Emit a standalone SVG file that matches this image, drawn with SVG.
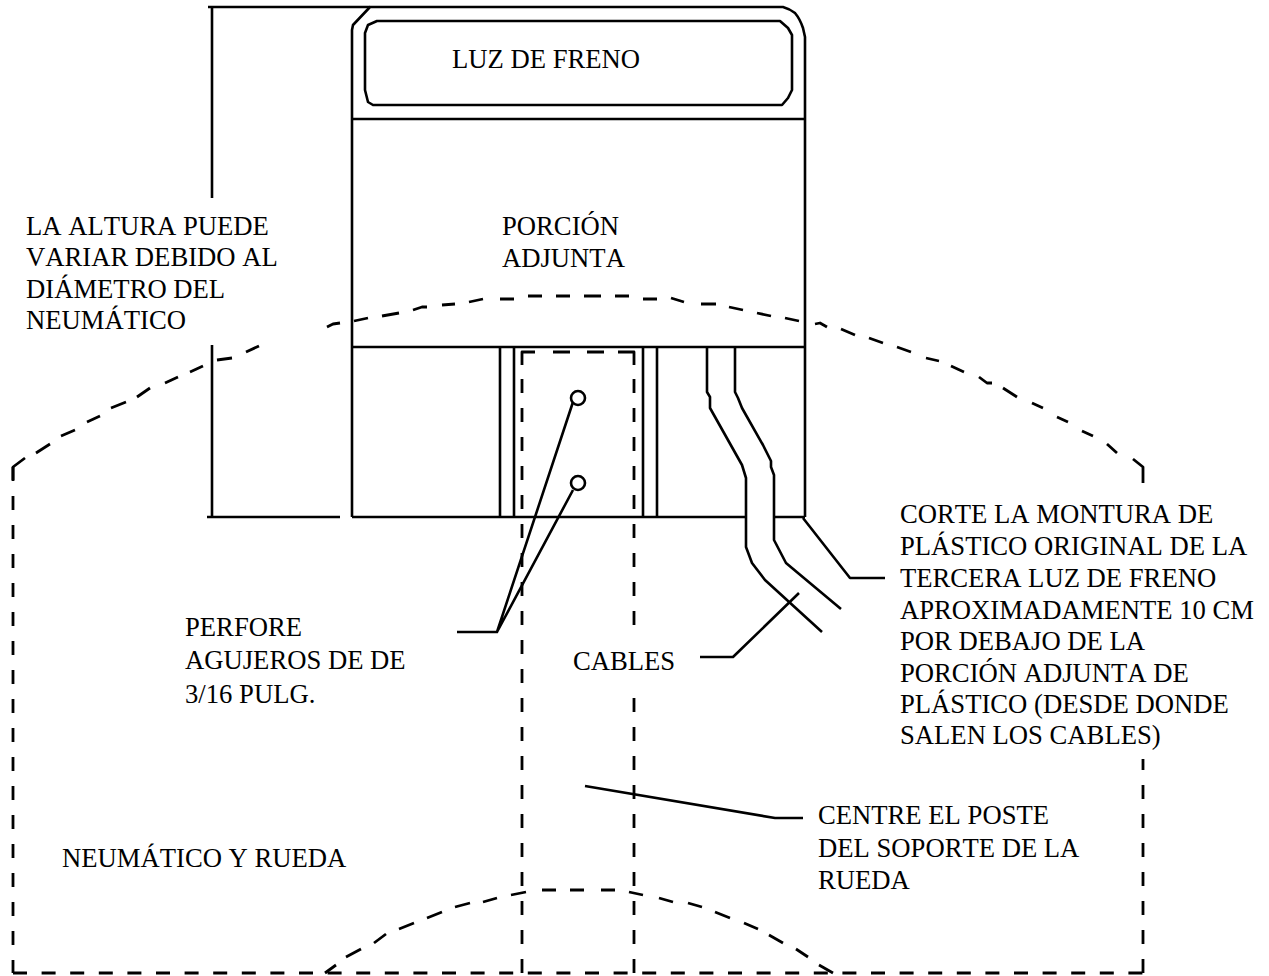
<svg xmlns="http://www.w3.org/2000/svg" width="1269" height="976" viewBox="0 0 1269 976">
<style>
.l{fill:none;stroke:#000;stroke-width:2.6;stroke-linejoin:round}
.s{fill:none;stroke:#000;stroke-width:2.8;stroke-linejoin:round}
.d{fill:none;stroke:#000;stroke-width:2.8;stroke-dasharray:14 15}
.b{fill:none;stroke:#000;stroke-width:2.8;stroke-dasharray:14 14.6}
text{font-family:"Liberation Serif","Times New Roman",serif;font-size:26.67px;fill:#000;font-kerning:none}
</style>
<rect width="1269" height="976" fill="#fff"/>
<g id="tire">
<path class="d" d="M13 467V973"/>
<path class="b" d="M13 973H1143"/>
<path class="d" d="M1143 973V759"/>
<path class="s" d="M13 480V467L25 458M36 453L50 444M61 436L75 430M87 422L100 416M111 408L126 402M137 397L150 388M165 383L178 377M190 372L203 366M217 360L232 358M246 352L259 346M327 327L333 324L340 323M354 321L368 318M382 316L399 313M413 310L422 307L427 307M442 305L455 304M469 302L483 299M500 299H514M528 296H542M556 296H570M584 296H601M615 296H629M643 299H657M671 298L684 302M701 304H716M729 307L743 310M757 313L771 316M785 318L799 321M815 324L820 323L827 327M841 329L855 335M869 338L883 343M897 347L911 352M926 358L939 361M951 366L964 372M979 377L987 383L992 383M1003 388L1017 397M1032 403L1043 408M1057 417L1068 422M1082 431L1093 436M1107 444L1117 453M1133 459L1143 467V483"/>
<path class="s" d="M325 973L336 965M346 957L361 949M374 943L386 934M399 929L414 923M427 918L442 912M455 907L470 903M483 902L497 898M511 895L526 892M542 890H556M570 890H584M601 890H615M629 892L643 895M659 898L673 902M688 903L702 907M715 912L730 918M744 923L758 929M769 935L783 943M796 949L808 957M819 965L833 973"/>
<path class="d" d="M522 973V379"/>
<path class="d" d="M634 973V698"/>
<path class="d" d="M634 625V379"/>
<path class="s" d="M522 365V352H535M553 352H570M587 352H604M618 352H634V365"/>
</g>
<g id="post">
<path class="l" d="M500 347V517M514 347V517M643 347V517M657 347V517"/>
</g>
<g id="housing">
<path class="l" d="M352 517V30L353 25L370 7H783Q790 9 795 13Q800 19 803 28L805 37V517M352 119H805M352 347H805M352 517H746M774 517H805"/>
</g>
<g id="light">
<path class="l" d="M365 33L368 25L377 21H780L788 28L792 35V90L788 98L782 105H373L368 102L365 90Z"/>
</g>
<g id="holes">
<circle class="l" cx="578" cy="398" r="7"/>
<circle class="l" cx="578" cy="483" r="7"/>
</g>
<g id="cables">
<path class="l" d="M707 347V392L710 397V408L742 465L746 478V547L752 563L765 580L822 632"/>
<path class="l" d="M735 347V392L738 398L742 408L763 445L771 461V467L774 475V540L786 563L841 609"/>
</g>
<g id="connectors">
<path class="l" d="M208 7H370M212 7V198M212 345V517M207 517H340"/>
<path class="l" d="M573 402L497 632H457M573 490L497 632"/>
<path class="l" d="M803 518L850 578H885"/>
<path class="l" d="M799 593L733 657H700"/>
<path class="l" d="M585 786L775 818H803"/>
</g>
<g id="labels">
<text x="452" y="68">LUZ DE FRENO</text>
<text x="502" y="235">PORCIÓN</text>
<text x="502" y="267">ADJUNTA</text>
<text x="26" y="235">LA ALTURA PUEDE</text>
<text x="26" y="266">VARIAR DEBIDO AL</text>
<text x="26" y="298">DIÁMETRO DEL</text>
<text x="26" y="329">NEUMÁTICO</text>
<text x="185" y="636">PERFORE</text>
<text x="185" y="669">AGUJEROS DE DE</text>
<text x="185" y="703">3/16 PULG.</text>
<text x="573" y="670">CABLES</text>
<text x="900" y="523">CORTE LA MONTURA DE</text>
<text x="900" y="555">PLÁSTICO ORIGINAL DE LA</text>
<text x="900" y="587">TERCERA LUZ DE FRENO</text>
<text x="900" y="619">APROXIMADAMENTE 10 CM</text>
<text x="900" y="650">POR DEBAJO DE LA</text>
<text x="900" y="682">PORCIÓN ADJUNTA DE</text>
<text x="900" y="713">PLÁSTICO (DESDE DONDE</text>
<text x="900" y="744">SALEN LOS CABLES)</text>
<text x="818" y="824">CENTRE EL POSTE</text>
<text x="818" y="857">DEL SOPORTE DE LA</text>
<text x="818" y="889">RUEDA</text>
<text x="62" y="867">NEUMÁTICO Y RUEDA</text>
</g>
</svg>
